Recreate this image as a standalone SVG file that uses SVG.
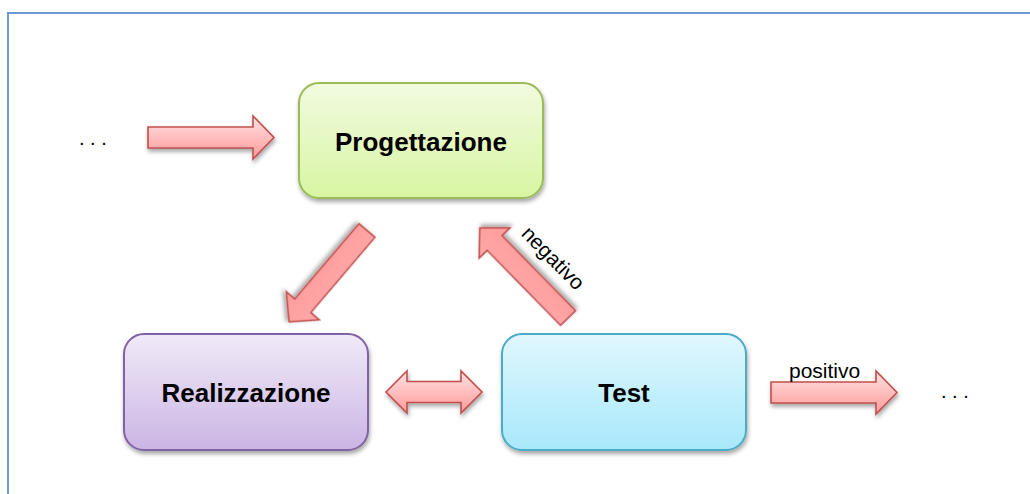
<svg xmlns="http://www.w3.org/2000/svg" width="1030" height="494" viewBox="0 0 1030 494">
  <defs>
    <style>
      .box { stroke-width: 2; filter: url(#shadow); }
      .lbl { font-family: "Liberation Sans", Arial, Helvetica, sans-serif; font-weight: bold; font-size: 26px; fill: #000; text-anchor: middle; }
      .small { font-family: "Liberation Sans", Arial, Helvetica, sans-serif; font-size: 21px; fill: #000; }
      .dots { font-family: "Liberation Sans", Arial, Helvetica, sans-serif; font-size: 20px; fill: #000; }
      .arrow { stroke: #c0504d; stroke-width: 1.6; stroke-linejoin: miter; filter: url(#shadow); }
      .harrow { fill: url(#gArrowH); }
      .darrow { fill: url(#gArrowD); }
    </style>
    <filter id="shadow" x="-20%" y="-20%" width="140%" height="150%">
      <feDropShadow dx="1" dy="3" stdDeviation="2" flood-color="#000" flood-opacity="0.35"/>
    </filter>
    <linearGradient id="gGreen" x1="0" y1="0" x2="0" y2="1">
      <stop offset="0" stop-color="#f1fbe0"/>
      <stop offset="1" stop-color="#d8f5a2"/>
    </linearGradient>
    <linearGradient id="gPurple" x1="0" y1="0" x2="0" y2="1">
      <stop offset="0" stop-color="#f0eaf8"/>
      <stop offset="1" stop-color="#cbb5e4"/>
    </linearGradient>
    <linearGradient id="gBlue" x1="0" y1="0" x2="0" y2="1">
      <stop offset="0" stop-color="#e1f7fe"/>
      <stop offset="1" stop-color="#a8e8fb"/>
    </linearGradient>
    <linearGradient id="gArrowH" x1="0" y1="0" x2="0" y2="1">
      <stop offset="0" stop-color="#ffe2e2"/>
      <stop offset="1" stop-color="#ff9a9a"/>
    </linearGradient>
    <linearGradient id="gArrowD" x1="0" y1="0" x2="0" y2="1">
      <stop offset="0" stop-color="#ffa8a8"/>
      <stop offset="1" stop-color="#ff9c9c"/>
    </linearGradient>
  </defs>

  <rect x="0" y="0" width="1030" height="494" fill="#fff"/>
  <!-- frame -->
  <path d="M8,500 V13 H1040" fill="none" stroke="#6a98d4" stroke-width="2"/>

  <g id="connectors">
    <path class="arrow harrow" d="M148,127 H253 V116 L274,137.5 L253,159 V148 H148 Z"/>
    <path class="arrow darrow" transform="translate(367,230.5) rotate(130.45)" d="M0,-10.5 H99 V-21.5 L120,0 L99,21.5 V10.5 H0 Z"/>
    <path class="arrow darrow" transform="translate(568,318) rotate(225.6)" d="M0,-10.5 H105 V-21.5 L126,0 L105,21.5 V10.5 H0 Z"/>
    <path class="arrow harrow" d="M386,392 L407,371 V381.5 H461 V371 L482,392 L461,413 V402.5 H407 V413 Z"/>
    <path class="arrow harrow" d="M771,382 H876 V371 L897,392.5 L876,414 V403 H771 Z"/>
    <text class="small" transform="translate(548,263) rotate(45.5)" text-anchor="middle">negativo</text>
    <text class="small" x="789" y="378">positivo</text>
  </g>

  <g id="node-progettazione">
    <rect class="box" x="299" y="83" width="244" height="115" rx="20" fill="url(#gGreen)" stroke="#9bbb59"/>
    <text class="lbl" x="421" y="151">Progettazione</text>
  </g>

  <g id="node-realizzazione">
    <rect class="box" x="124" y="334" width="244" height="116" rx="20" fill="url(#gPurple)" stroke="#8064a2"/>
    <text class="lbl" x="246" y="402">Realizzazione</text>
  </g>

  <g id="node-test">
    <rect class="box" x="502" y="334" width="244" height="116" rx="20" fill="url(#gBlue)" stroke="#4bacc6"/>
    <text class="lbl" x="624" y="402">Test</text>
  </g>

  <g id="dots-left">
    <text class="dots" x="79" y="145">. . .</text>
  </g>
  <g id="dots-right">
    <text class="dots" x="941" y="398">. . .</text>
  </g>
</svg>
